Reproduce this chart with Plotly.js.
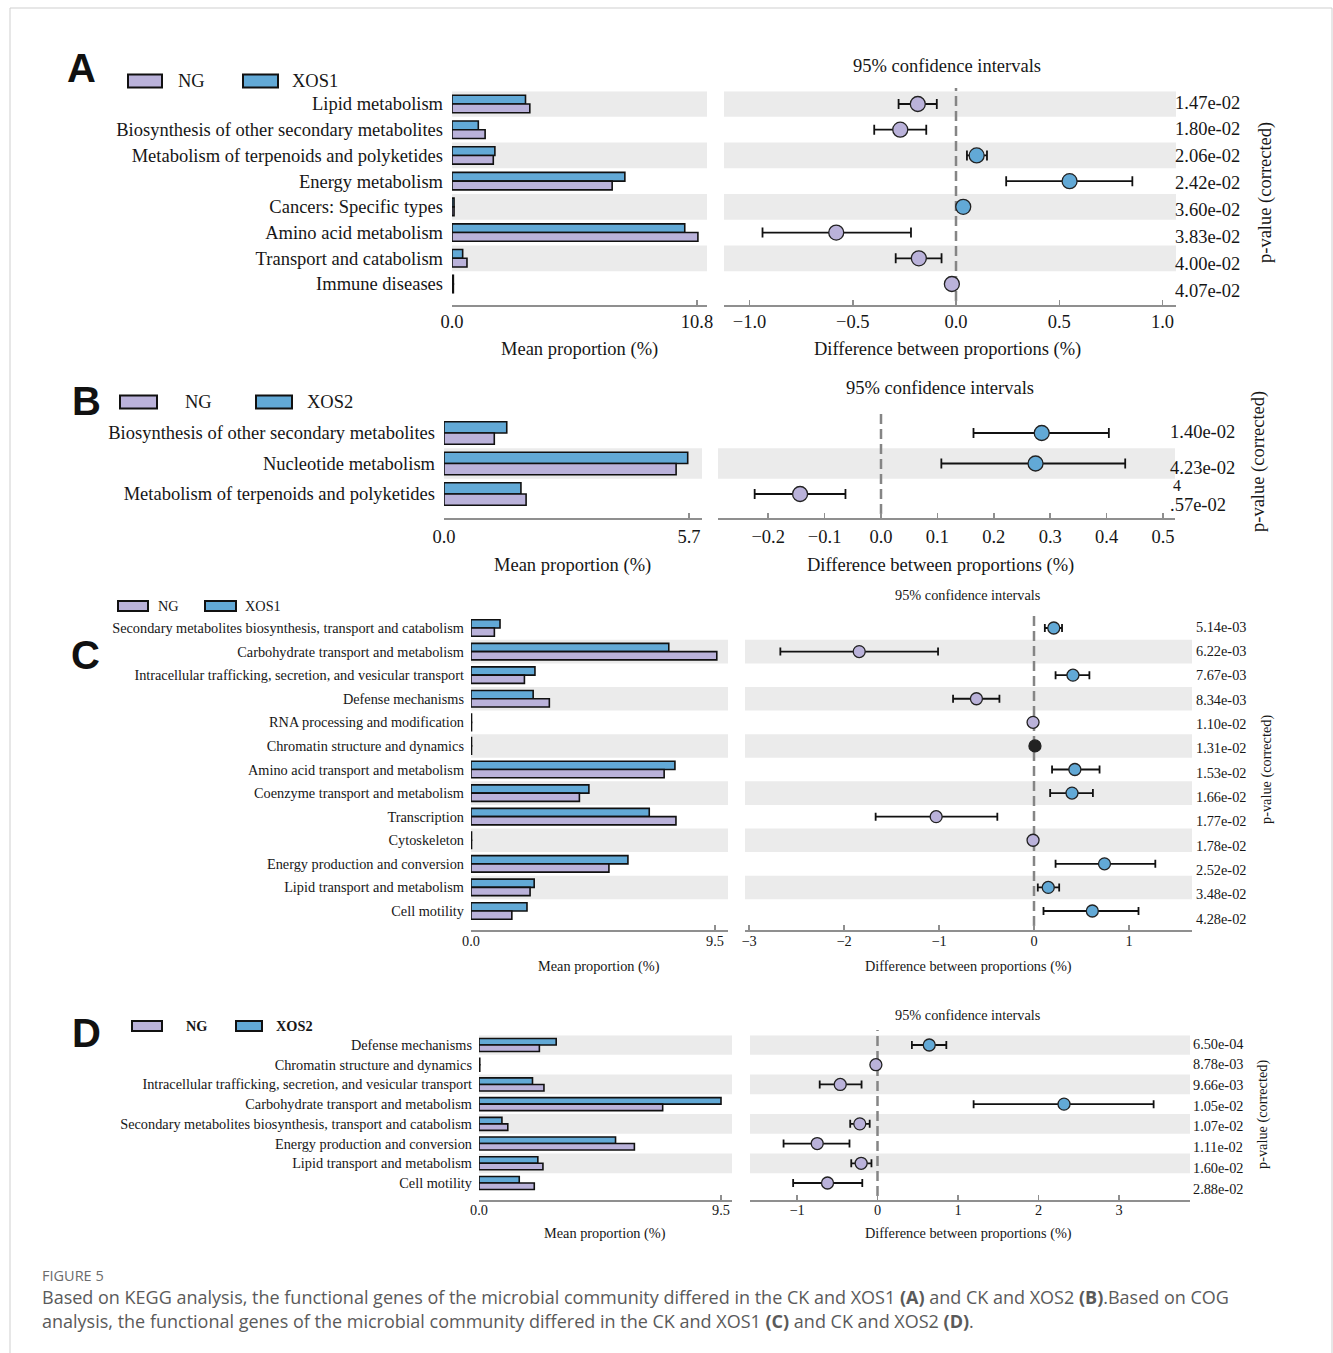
<!DOCTYPE html>
<html>
<head>
<meta charset="utf-8">
<script src="https://cdn.plot.ly/plotly-3.0.1.min.js"></script>
<style>html,body{margin:0;padding:0;background:#fff;}#chart{width:1333px;height:1353px;}</style>
</head>
<body>
<div id="chart"></div>
<script>
// ---------------- DATA ----------------
// Panel A (KEGG, NG vs XOS1)
const catsA = ['Lipid metabolism','Biosynthesis of other secondary metabolites','Metabolism of terpenoids and polyketides','Energy metabolism','Cancers: Specific types','Amino acid metabolism','Transport and catabolism','Immune diseases'];
const ngA   = [3.43, 1.46, 1.82, 7.06, 0.09, 10.84, 0.66, 0.06];
const xosA  = [3.24, 1.16, 1.89, 7.62, 0.09, 10.26, 0.47, 0.06];
const diffA = [-0.185, -0.27, 0.10, 0.55, 0.035, -0.58, -0.18, -0.02];
const loA   = [-0.278, -0.396, 0.053, 0.243, 0.028, -0.937, -0.292, -0.03];
const hiA   = [-0.093, -0.144, 0.15, 0.854, 0.042, -0.218, -0.07, -0.01];
const grpA  = ['NG','NG','XOS1','XOS1','XOS1','NG','NG','NG'];
const pA    = ['1.47e-02','1.80e-02','2.06e-02','2.42e-02','3.60e-02','3.83e-02','4.00e-02','4.07e-02'];

// Panel B (KEGG, NG vs XOS2)
const catsB = ['Biosynthesis of other secondary metabolites','Nucleotide metabolism','Metabolism of terpenoids and polyketides'];
const ngB   = [1.17, 5.40, 1.91];
const xosB  = [1.46, 5.67, 1.79];
const diffB = [0.285, 0.274, -0.1435];
const loB   = [0.164, 0.107, -0.224];
const hiB   = [0.404, 0.433, -0.063];
const grpB  = ['XOS2','XOS2','NG'];
const pB    = ['1.40e-02','4.23e-02','.57e-02'];

// Panel C (COG, NG vs XOS1)
const catsC = ['Secondary metabolites biosynthesis, transport and catabolism','Carbohydrate transport and metabolism','Intracellular trafficking, secretion, and vesicular transport','Defense mechanisms','RNA processing and modification','Chromatin structure and dynamics','Amino acid transport and metabolism','Coenzyme transport and metabolism','Transcription','Cytoskeleton','Energy production and conversion','Lipid transport and metabolism','Cell motility'];
const ngC   = [0.91, 9.57, 2.08, 3.05, 0.02, 0.02, 7.52, 4.22, 7.98, 0.02, 5.37, 2.30, 1.59];
const xosC  = [1.13, 7.70, 2.49, 2.42, 0.02, 0.02, 7.94, 4.59, 6.94, 0.02, 6.11, 2.46, 2.18];
const diffC = [0.208, -1.84, 0.41, -0.606, -0.01, 0.01, 0.43, 0.40, -1.03, -0.01, 0.742, 0.15, 0.614];
const loC   = [0.114, -2.67, 0.227, -0.852, -0.015, 0.005, 0.19, 0.17, -1.667, -0.015, 0.227, 0.04, 0.10];
const hiC   = [0.295, -1.01, 0.583, -0.364, -0.005, 0.015, 0.69, 0.62, -0.386, -0.005, 1.277, 0.265, 1.10];
const grpC  = ['XOS1','NG','XOS1','NG','NG','EQ','XOS1','XOS1','NG','NG','XOS1','XOS1','XOS1'];
const pC    = ['5.14e-03','6.22e-03','7.67e-03','8.34e-03','1.10e-02','1.31e-02','1.53e-02','1.66e-02','1.77e-02','1.78e-02','2.52e-02','3.48e-02','4.28e-02'];

// Panel D (COG, NG vs XOS2)
const catsD = ['Defense mechanisms','Chromatin structure and dynamics','Intracellular trafficking, secretion, and vesicular transport','Carbohydrate transport and metabolism','Secondary metabolites biosynthesis, transport and catabolism','Energy production and conversion','Lipid transport and metabolism','Cell motility'];
const ngD   = [2.37, 0.03, 2.55, 7.21, 1.13, 6.10, 2.51, 2.17];
const xosD  = [3.03, 0.03, 2.10, 9.50, 0.90, 5.36, 2.31, 1.58];
const diffD = [0.643, -0.02, -0.463, 2.317, -0.22, -0.749, -0.203, -0.621];
const loD   = [0.427, -0.03, -0.718, 1.194, -0.339, -1.167, -0.326, -1.048];
const hiD   = [0.855, -0.01, -0.198, 3.43, -0.097, -0.348, -0.075, -0.189];
const grpD  = ['XOS2','NG','NG','XOS2','NG','NG','NG','NG'];
const pD    = ['6.50e-04','8.78e-03','9.66e-03','1.05e-02','1.07e-02','1.11e-02','1.60e-02','2.88e-02'];

const groupNames = ['NG','XOS1','XOS2'];

// ---------------- STYLE / GEOMETRY ----------------
const W = 1333, H = 1353;
const px = x => x / W;
const py = y => 1 - y / H;
const LAV = '#bab2da', BLUE = '#62a9d6', STRIPE = '#ebebeb', AX = '#8f8f8f', TXT = '#161616';
const colorOf = g => g === 'NG' ? LAV : (g === 'EQ' ? '#222222' : BLUE);
const SERIF = 'Liberation Serif, Times New Roman, serif';

const panels = [
  {letter:'A', cats:catsA, ng:ngA, xos:xosA, diff:diffA, lo:loA, hi:hiA, grp:grpA, p:pA, xosName:groupNames[1],
   rowTop:104, rowBot:284, axisY:305, barL:452, barR:707, barMax:10.8, barMaxPx:697, bw:0.34,
   ciL:724, ciR:1176, ciZero:956, ciUnit:206.5, ciTicks:[-1,-0.5,0,0.5,1], ciFmt:'.1f', zeroTop:88,
   pTop:104, pBot:292, pX:1175, fs:18.5, ms:15, stripeEven:true, tstand:-1, ystand:8, cap:5,
   letterXY:[81,68], legY:81, legNG:[128,162], legNGtxt:176, legX:[243,278], legXtxt:290, legH:13, legBold:false,
   ciTitleXY:[947,66], barTitleXY:[579,349], diffTitleXY:[947,349], pTitleXY:[1266,193]},
  {letter:'B', cats:catsB, ng:ngB, xos:xosB, diff:diffB, lo:loB, hi:hiB, grp:grpB, p:pB, xosName:groupNames[2],
   rowTop:433, rowBot:494, axisY:518, barL:444, barR:702, barMax:5.7, barMaxPx:689, bw:0.37,
   ciL:718, ciR:1175, ciZero:881, ciUnit:564, ciTicks:[-0.2,-0.1,0,0.1,0.2,0.3,0.4,0.5], ciFmt:'.1f', zeroTop:413,
   pTop:433, pBot:506, pX:1170, fs:18.5, ms:15, stripeEven:false, tstand:1, ystand:8, cap:5,
   letterXY:[86,401], legY:402, legNG:[120,157], legNGtxt:183, legX:[256,292], legXtxt:305, legH:13, legBold:false,
   ciTitleXY:[940,388], barTitleXY:[572,565], diffTitleXY:[940,565], pTitleXY:[1258,462]},
  {letter:'C', cats:catsC, ng:ngC, xos:xosC, diff:diffC, lo:loC, hi:hiC, grp:grpC, p:pC, xosName:groupNames[1],
   rowTop:628, rowBot:911, axisY:930, barL:471, barR:728, barMax:9.5, barMaxPx:715, bw:0.35,
   ciL:745, ciR:1192, ciZero:1034, ciUnit:95, ciTicks:[-3,-2,-1,0,1], ciFmt:'d', zeroTop:612,
   pTop:628, pBot:920, pX:1196, fs:14.3, ms:12, stripeEven:false, tstand:-3, ystand:6, cap:4,
   letterXY:[85,655], legY:606, legNG:[118,148], legNGtxt:156, legX:[205,236], legXtxt:243, legH:10, legBold:false,
   ciTitleXY:[968,595], barTitleXY:[599,966], diffTitleXY:[968,966], pTitleXY:[1266,770]},
  {letter:'D', cats:catsD, ng:ngD, xos:xosD, diff:diffD, lo:loD, hi:hiD, grp:grpD, p:pD, xosName:groupNames[2],
   rowTop:1045, rowBot:1183, axisY:1200, barL:479, barR:732, barMax:9.5, barMaxPx:721, bw:0.33,
   ciL:750, ciR:1190, ciZero:877.5, ciUnit:80.5, ciTicks:[-1,0,1,2,3], ciFmt:'d', zeroTop:1030,
   pTop:1045, pBot:1190, pX:1193, fs:14.3, ms:12, stripeEven:true, tstand:-4, ystand:6, cap:4,
   letterXY:[86,1033], legY:1026, legNG:[132,162], legNGtxt:184, legX:[236,262], legXtxt:274, legH:10, legBold:true,
   ciTitleXY:[968,1015], barTitleXY:[605,1233], diffTitleXY:[968,1233], pTitleXY:[1262,1115]}
];

const data = [];
const layout = {
  width: W, height: H, margin: {l:0, r:0, t:0, b:0},
  paper_bgcolor: '#ffffff', plot_bgcolor: 'rgba(0,0,0,0)',
  showlegend: false, barmode: 'overlay',
  shapes: [], annotations: []
};
const axName = (c, n) => c + 'axis' + (n === 1 ? '' : n);
const ann = (text, x, y, size, opts) => Object.assign({
  text, x: px(x), y: py(y), xref:'paper', yref:'paper', showarrow:false,
  xanchor:'center', yanchor:'middle', font:{family:SERIF, size, color:TXT}
}, opts || {});

panels.forEach((P, k) => {
  const nb = 3*k + 1, nc = 3*k + 2, np = 3*k + 3;
  const n = P.cats.length;
  const s = n > 1 ? (P.rowBot - P.rowTop) / (n - 1) : 30;
  const yTopPx = P.rowTop - s/2;
  const yRange = [(P.axisY - P.rowTop) / s, -0.5];
  const yDom = [py(P.axisY), py(yTopPx)];
  const barRange = [0, P.barMax * (P.barR - P.barL) / (P.barMaxPx - P.barL)];
  const ciRange = [(P.ciL - P.ciZero) / P.ciUnit, (P.ciR - P.ciZero) / P.ciUnit];
  const xb = 'x' + (nb===1?'':nb), yb = 'y' + (nb===1?'':nb);
  const xc = 'x' + nc, yc = 'y' + nc, xp = 'x' + np, yp = 'y' + np;
  const xAxisCommon = {
    showline:true, linecolor:AX, linewidth:2, ticks:'inside', ticklen:5, tickwidth:1.5, tickcolor:AX,
    showgrid:false, zeroline:false, fixedrange:true,
    tickfont:{family:SERIF, size:P.fs, color:TXT}, ticklabelstandoff:P.tstand
  };
  // bar axes
  layout[axName('x', nb)] = Object.assign({}, xAxisCommon, {
    domain:[px(P.barL), px(P.barR)], range:barRange, anchor:yb,
    tickvals:[0, P.barMax], tickformat:'.1f'
  });
  layout[axName('y', nb)] = {
    domain:yDom, range:yRange, anchor:xb, type:'category', showline:false, ticks:'',
    showgrid:false, zeroline:false, fixedrange:true,
    tickfont:{family:SERIF, size:P.fs, color:TXT}, ticklabelstandoff:P.ystand
  };
  // CI axes
  layout[axName('x', nc)] = Object.assign({}, xAxisCommon, {
    domain:[px(P.ciL), px(P.ciR)], range:ciRange, anchor:yc,
    tickvals:P.ciTicks, tickformat:P.ciFmt
  });
  layout[axName('y', nc)] = {
    domain:yDom, range:yRange, anchor:xc, type:'category', showline:false, ticks:'',
    showticklabels:false, showgrid:false, zeroline:false, fixedrange:true
  };
  // p-value text axes
  const sp = (P.pBot - P.pTop) / (n - 1 || 1);
  layout[axName('x', np)] = {domain:[px(P.pX), px(P.pX + 70)], range:[0,1], anchor:yp, visible:false, fixedrange:true};
  layout[axName('y', np)] = {domain:[py(P.pBot + sp/2), py(P.pTop - sp/2)], range:[n - 0.5, -0.5], anchor:xp, visible:false, fixedrange:true};

  // stripes
  P.cats.forEach((c, i) => {
    const gray = P.stripeEven ? (i % 2 === 0) : (i % 2 === 1);
    if (!gray) return;
    [[xb, yb],[xc, yc]].forEach(([xr, yr]) => {
      layout.shapes.push({type:'rect', layer:'below', xref:xr + ' domain', x0:0, x1:1, yref:yr, y0:i - 0.5, y1:i + 0.5,
        fillcolor:STRIPE, line:{width:0}});
    });
  });
  // zero dashed line
  layout.shapes.push({type:'line', layer:'below', xref:xc, x0:0, x1:0, yref:'paper', y0:py(P.axisY - 4), y1:py(P.zeroTop),
    line:{color:'#858585', width:2.5, dash:'10px,5px'}});

  // bars
  data.push({type:'bar', orientation:'h', x:P.xos, y:P.cats, xaxis:xb, yaxis:yb, name:P.xosName,
    width:P.bw, offset:-P.bw, marker:{color:BLUE, line:{color:'#111', width:1.6}}, hoverinfo:'x'});
  data.push({type:'bar', orientation:'h', x:P.ng, y:P.cats, xaxis:xb, yaxis:yb, name:'NG',
    width:P.bw, offset:0, marker:{color:LAV, line:{color:'#111', width:1.6}}, hoverinfo:'x'});
  // CI points
  data.push({type:'scatter', mode:'markers', x:P.diff, y:P.cats, xaxis:xc, yaxis:yc,
    marker:{size:P.ms, color:P.grp.map(colorOf), line:{color:'#222', width:1.3}},
    error_x:{type:'data', symmetric:false, array:P.hi.map((h, i) => h - P.diff[i]),
             arrayminus:P.diff.map((d, i) => d - P.lo[i]), color:'#111', thickness:1.8, width:P.cap},
    hoverinfo:'x'});
  // p-values
  data.push({type:'scatter', mode:'text', x:P.p.map(() => 0), y:P.p.map((_, i) => i), text:P.p,
    textposition:'middle right', xaxis:xp, yaxis:yp, cliponaxis:false,
    textfont:{family:SERIF, size:P.fs, color:TXT}, hoverinfo:'skip'});

  // texts
  layout.annotations.push(ann('95% confidence intervals', P.ciTitleXY[0], P.ciTitleXY[1], P.fs));
  layout.annotations.push(ann('Mean proportion (%)', P.barTitleXY[0], P.barTitleXY[1], P.fs));
  layout.annotations.push(ann('Difference between proportions (%)', P.diffTitleXY[0], P.diffTitleXY[1], P.fs));
  layout.annotations.push(ann('p-value (corrected)', P.pTitleXY[0], P.pTitleXY[1], P.fs, {textangle:-90}));
  layout.annotations.push(ann('<b>' + P.letter + '</b>', P.letterXY[0], P.letterXY[1], 40,
    {font:{family:'Liberation Sans, Arial, sans-serif', size:40, color:'#111'}}));
  // legend
  const lt = P.legY - P.legH/2, lb = P.legY + P.legH/2;
  layout.shapes.push({type:'rect', xref:'paper', yref:'paper', x0:px(P.legNG[0]), x1:px(P.legNG[1]), y0:py(lb), y1:py(lt),
    fillcolor:LAV, line:{color:'#111', width:2}});
  layout.shapes.push({type:'rect', xref:'paper', yref:'paper', x0:px(P.legX[0]), x1:px(P.legX[1]), y0:py(lb), y1:py(lt),
    fillcolor:BLUE, line:{color:'#111', width:2}});
  const bold = t => P.legBold ? '<b>' + t + '</b>' : t;
  layout.annotations.push(ann(bold('NG'), P.legNGtxt, P.legY, P.fs, {xanchor:'left'}));
  layout.annotations.push(ann(bold(P.xosName), P.legXtxt, P.legY, P.fs, {xanchor:'left'}));
});

// stray glyph of the original panel B p-value column
layout.annotations.push(ann('4', 1177, 486, 16));

// outer frame
layout.shapes.push({type:'rect', xref:'paper', yref:'paper', x0:px(10), x1:px(1332), y0:py(1360), y1:py(8),
  line:{color:'#cfcfcf', width:1}, fillcolor:'rgba(0,0,0,0)'});

// caption
const CAP = 'Open Sans, Noto Sans, sans-serif';
layout.annotations.push({text:'FIGURE 5', x:px(40), y:py(1275), xref:'paper', yref:'paper', showarrow:false,
  xanchor:'left', yanchor:'middle', font:{family:CAP, size:14.5, color:'#6b6b6b'}});
layout.annotations.push({text:'Based on KEGG analysis, the functional genes of the microbial community differed in the CK and XOS1 <b>(A)</b> and CK and XOS2 <b>(B)</b>.Based on COG',
  x:px(40), y:py(1297), xref:'paper', yref:'paper', showarrow:false, xanchor:'left', yanchor:'middle',
  font:{family:CAP, size:18, color:'#5a5a5a'}});
layout.annotations.push({text:'analysis, the functional genes of the microbial community differed in the CK and XOS1 <b>(C)</b> and CK and XOS2 <b>(D)</b>.',
  x:px(40), y:py(1321), xref:'paper', yref:'paper', showarrow:false, xanchor:'left', yanchor:'middle',
  font:{family:CAP, size:18, color:'#5a5a5a'}});

Plotly.newPlot('chart', data, layout, {displayModeBar:false, staticPlot:true});
</script>
</body>
</html>
